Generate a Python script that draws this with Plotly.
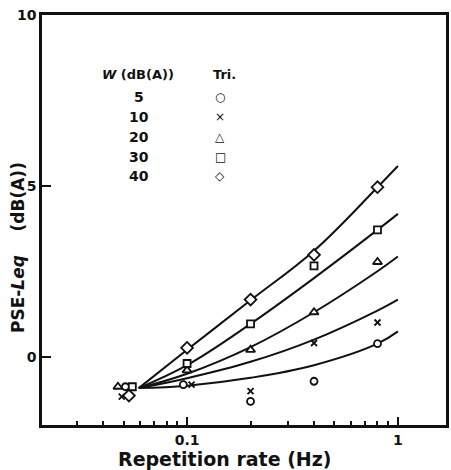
import plotly.graph_objects as go

# ---- data ----
w_levels = ["5", "10", "20", "30", "40"]
legend_glyphs = ["○", "×", "△", "□", "◇"]

# fitted curves (read at several repetition rates)
curve_rate = [0.059, 0.1, 0.2, 0.4, 0.8, 1.0]
curve_w5 = [-0.92, -0.85, -0.62, -0.25, 0.38, 0.74]
curve_w10 = [-0.92, -0.63, -0.15, 0.50, 1.35, 1.67]
curve_w20 = [-0.92, -0.50, 0.28, 1.30, 2.50, 2.93]
curve_w30 = [-0.92, -0.25, 0.96, 2.30, 3.71, 4.18]
curve_w40 = [-0.92, 0.20, 1.65, 3.10, 4.96, 5.58]

# measured points
rate_w5 = [0.051, 0.096, 0.2, 0.4, 0.8]
pse_w5 = [-0.88, -0.82, -1.31, -0.72, 0.38]
rate_w10 = [0.049, 0.105, 0.2, 0.4, 0.8]
pse_w10 = [-1.17, -0.82, -1.01, 0.40, 1.00]
rate_w20 = [0.047, 0.1, 0.2, 0.4, 0.8]
pse_w20 = [-0.88, -0.40, 0.20, 1.30, 2.77]
rate_w30 = [0.055, 0.1, 0.2, 0.4, 0.8]
pse_w30 = [-0.88, -0.20, 0.96, 2.66, 3.71]
rate_w40 = [0.053, 0.1, 0.2, 0.4, 0.8]
pse_w40 = [-1.14, 0.26, 1.67, 2.98, 4.96]

x_ticks = [0.1, 1]
x_ticktext = ["0.1", "1"]
x_minor = [0.03, 0.04, 0.05, 0.06, 0.07, 0.08, 0.09,
           0.2, 0.3, 0.4, 0.5, 0.6, 0.7, 0.8, 0.9]
y_ticks = [0, 5, 10]

FONT = "DejaVu Sans"
BLACK = "#111111"

fig = go.Figure()

curves = [curve_w5, curve_w10, curve_w20, curve_w30, curve_w40]
for c in curves:
    fig.add_trace(go.Scatter(x=curve_rate, y=c, mode="lines",
                             line=dict(color=BLACK, width=2, shape="spline", smoothing=1.1),
                             hoverinfo="skip", showlegend=False))

point_sets = [
    (rate_w5, pse_w5, "circle", 7, "white"),
    (rate_w10, pse_w10, "x-thin-open", 6, BLACK),
    (rate_w20, pse_w20, "triangle-up", 8, "white"),
    (rate_w30, pse_w30, "square", 7, "white"),
    (rate_w40, pse_w40, "diamond", 9, "white"),
]
for xs, ys, sym, sz, fill in point_sets:
    fig.add_trace(go.Scatter(x=xs, y=ys, mode="markers",
                             marker=dict(symbol=sym, size=sz, color=fill,
                                         line=dict(color=BLACK, width=1.8)),
                             showlegend=False))


def txt(text, x, y, size, angle=0, family=FONT):
    return dict(text=text, x=x, y=y, xref="paper", yref="paper",
                xanchor="center", yanchor="middle", textangle=angle,
                showarrow=False, font=dict(size=size, family=family, color=BLACK))


ann = []
# legend header
ann.append(txt("<b><i>W</i> (dB(A))</b>", 0.237, 0.854, 13))
ann.append(txt("<b>Tri.</b>", 0.451, 0.854, 13))
row_y = [0.800, 0.751, 0.702, 0.654, 0.607]
for lvl, g, yy in zip(w_levels, legend_glyphs, row_y):
    ann.append(txt("<b>%s</b>" % lvl, 0.24, yy, 14))
    ann.append(txt(g, 0.441, yy, 12))
# axis titles
ann.append(txt("<b>Repetition rate (Hz)</b>", 0.453, -0.083, 19))
ann.append(txt("<b>PSE-<i>Leq</i>    (dB(A))</b>", -0.059, 0.432, 17, angle=-90))

fig.update_layout(
    width=451, height=470,
    margin=dict(l=42, r=2, t=15, b=45),
    paper_bgcolor="white", plot_bgcolor="white",
    annotations=ann,
    font=dict(family=FONT, color=BLACK),
)
fig.update_xaxes(type="log", range=[-1.688, 0.228],
                 tickvals=x_ticks, ticktext=["<b>%s</b>" % t for t in x_ticktext],
                 ticks="inside", ticklen=8, tickwidth=2, tickcolor=BLACK,
                 minor=dict(tickvals=x_minor, ticks="inside", ticklen=4, tickwidth=1.5, tickcolor=BLACK),
                 showline=True, linewidth=2.5, linecolor=BLACK, mirror=True,
                 showgrid=False, zeroline=False,
                 tickfont=dict(size=14, family=FONT, color=BLACK))
fig.update_yaxes(range=[-2, 10],
                 tickvals=y_ticks, ticktext=["<b>%d</b>" % t for t in y_ticks],
                 ticks="inside", ticklen=9, tickwidth=2, tickcolor=BLACK,
                 showline=True, linewidth=2.5, linecolor=BLACK, mirror=True,
                 showgrid=False, zeroline=False,
                 tickfont=dict(size=14, family=FONT, color=BLACK))

fig.write_html("out.html")
